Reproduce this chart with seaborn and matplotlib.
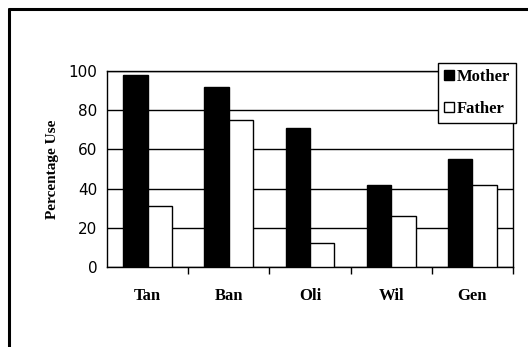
import matplotlib
matplotlib.use("Agg")
import matplotlib.pyplot as plt
import seaborn as sns
import pandas as pd
from matplotlib.lines import Line2D
from matplotlib.ticker import FixedLocator

# Datos
categorias = ["Tan", "Ban", "Oli", "Wil", "Gen"]
madre = [98, 92, 71, 42, 55]
padre = [31, 75, 12, 26, 42]

df = pd.DataFrame({
    "cat": categorias * 2,
    "valor": madre + padre,
    "grupo": ["Mother"] * len(categorias) + ["Father"] * len(categorias),
})

sns.set_style("white")
plt.rcParams.update({"text.color": "black", "axes.labelcolor": "black",
                     "xtick.color": "black", "ytick.color": "black"})

fig = plt.figure(figsize=(5.28, 3.47), dpi=100)
ax = fig.add_axes([107 / 528, 1 - 267 / 347, (513 - 107) / 528, (267 - 71) / 347])

sns.barplot(data=df, x="cat", y="valor", hue="grupo", order=categorias,
            hue_order=["Mother", "Father"], palette=["black", "white"],
            width=0.6, edgecolor="black", linewidth=1, saturation=1, ax=ax, zorder=3)

ax.set_ylim(0, 100)
ax.set_xlim(-0.5, len(categorias) - 0.5)
ax.set_yticks([0, 20, 40, 60, 80, 100])
ax.yaxis.grid(True, color="black", linewidth=1)
ax.set_axisbelow(True)

for s in ax.spines.values():
    s.set_visible(True)
    s.set_color("black")
    s.set_linewidth(1)

ax.set_xlabel("")
ax.set_ylabel("Percentage Use", family="Liberation Serif", fontweight="bold", fontsize=11, labelpad=7)

ax.tick_params(axis="y", length=0, pad=7, labelsize=11)
for t in ax.get_yticklabels():
    t.set_family("DejaVu Sans")
ax.tick_params(axis="x", which="major", length=0, pad=15)
ax.xaxis.set_minor_locator(FixedLocator([i + 0.5 for i in range(len(categorias))]))
ax.tick_params(axis="x", which="minor", length=5, width=1, color="black", direction="out", bottom=True)
for t in ax.get_xticklabels():
    t.set_family("Liberation Serif")
    t.set_fontweight("bold")
    t.set_fontsize(12)

leg = ax.legend(loc="upper right", bbox_to_anchor=(516 / 528, 1 - 63 / 347),
                bbox_transform=fig.transFigure, frameon=True, fancybox=False,
                handlelength=0.6, handleheight=0.6, handletextpad=0.2,
                borderpad=0.35, labelspacing=0.95, borderaxespad=0,
                prop={"family": "Liberation Serif", "weight": "bold", "size": 12})
leg.get_frame().set_edgecolor("black")
leg.get_frame().set_linewidth(1)
leg.get_frame().set_facecolor("white")
leg.get_frame().set_alpha(1)

# marco exterior
fig.add_artist(Line2D([9 / 528, 9 / 528], [0, 1 - 9 / 347], color="black", linewidth=2.2))
fig.add_artist(Line2D([9 / 528, 1], [1 - 9 / 347, 1 - 9 / 347], color="black", linewidth=2.2))

fig.savefig("out.png", dpi=100)
